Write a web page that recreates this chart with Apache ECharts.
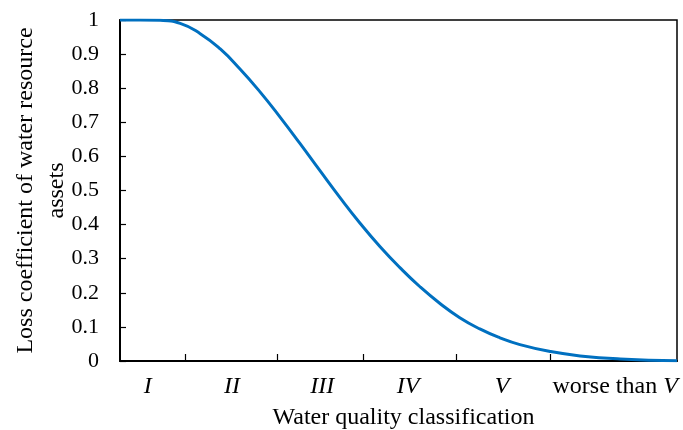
<!DOCTYPE html>
<html>
<head>
<meta charset="utf-8">
<script src="https://cdn.jsdelivr.net/npm/echarts@6/dist/echarts.min.js"></script>
<style>html,body{margin:0;padding:0;background:#fff;}#c{width:683px;height:430px;}</style>
</head>
<body>
<div id="c"></div>
<script>
// Continuous position along the water-quality scale (0..100) and loss coefficient
const xPos = [0, 3.6, 7.2, 10.8, 14.4, 18.0, 21.5, 25.1, 28.7, 32.3, 35.9, 39.5, 43.1, 46.7, 50.3, 53.9, 57.5, 61.0, 64.6, 68.2, 71.8, 77.2, 82.6, 89.8, 100];
const lossValues = [1.000, 1.000, 0.999, 0.990, 0.960, 0.915, 0.857, 0.790, 0.716, 0.638, 0.558, 0.479, 0.404, 0.335, 0.273, 0.217, 0.168, 0.127, 0.094, 0.068, 0.048, 0.028, 0.015, 0.006, 0.001];
// Class boundaries (tick marks) and class label positions
const boundaryTicks = [11.7, 28.2, 43.6, 60.3, 77.2];
const classPositions = [5.0, 20.1, 36.3, 51.7, 68.6, 88.9];
const classLabels = ['I', 'II', 'III', 'IV', 'V', 'worse than V'];
const yTicks = [0, 0.1, 0.2, 0.3, 0.4, 0.5, 0.6, 0.7, 0.8, 0.9, 1];

const serif = '"Liberation Serif", "Times New Roman", serif';
const chart = echarts.init(document.getElementById('c'));
chart.setOption({
  animation: false,
  backgroundColor: '#fff',
  grid: { left: 120, right: 6, top: 20, bottom: 69, containLabel: false, outerBoundsMode: 'none',
          show: true, borderColor: '#000', borderWidth: 1.5, backgroundColor: 'transparent' },
  xAxis: {
    type: 'value', min: 0, max: 100,
    name: 'Water quality classification', nameLocation: 'middle', nameGap: 45, nameMoveOverlap: false,
    nameTextStyle: { fontFamily: serif, fontSize: 24, color: '#000', padding: [0, 0, 0, 10] },
    axisLine: { lineStyle: { color: '#000', width: 2 } },
    axisTick: { show: true, inside: true, length: 7, customValues: boundaryTicks, lineStyle: { color: '#000', width: 1.2 } },
    axisLabel: {
      customValues: classPositions, margin: 14,
      formatter: function (v) {
        let idx = 0, best = 1e9;
        classPositions.forEach((p, i) => { if (Math.abs(p - v) < best) { best = Math.abs(p - v); idx = i; } });
        const t = classLabels[idx];
        if (t.indexOf('worse than ') === 0) return '{n|worse than }{i|' + t.slice(11) + '}';
        return '{i|' + t + '}';
      },
      rich: {
        i: { fontFamily: serif, fontSize: 24, fontStyle: 'italic', color: '#000' },
        n: { fontFamily: serif, fontSize: 24, color: '#000' }
      }
    },
    splitLine: { show: false }
  },
  yAxis: {
    type: 'value', min: 0, max: 1, interval: 0.1,
    name: 'Loss coefficient of water resource\nassets', nameLocation: 'middle', nameGap: 48, nameMoveOverlap: false,
    nameTextStyle: { fontFamily: serif, fontSize: 24, color: '#000', lineHeight: 31, align: 'center' },
    axisLine: { show: true, lineStyle: { color: '#000', width: 2 } },
    axisTick: { show: true, inside: true, length: 6, lineStyle: { color: '#000', width: 1.2 } },
    axisLabel: {
      fontFamily: serif, fontSize: 22, color: '#000', margin: 21,
      formatter: function (v) { const m = yTicks.find(t => Math.abs(t - v) < 1e-6); return String(m !== undefined ? m : v); }
    },
    splitLine: { show: false }
  },
  series: [{
    type: 'line', smooth: 0.5, symbol: 'none',
    data: xPos.map((x, i) => [x, lossValues[i]]),
    lineStyle: { color: '#0070C0', width: 3 }
  }]
});
</script>
</body>
</html>
